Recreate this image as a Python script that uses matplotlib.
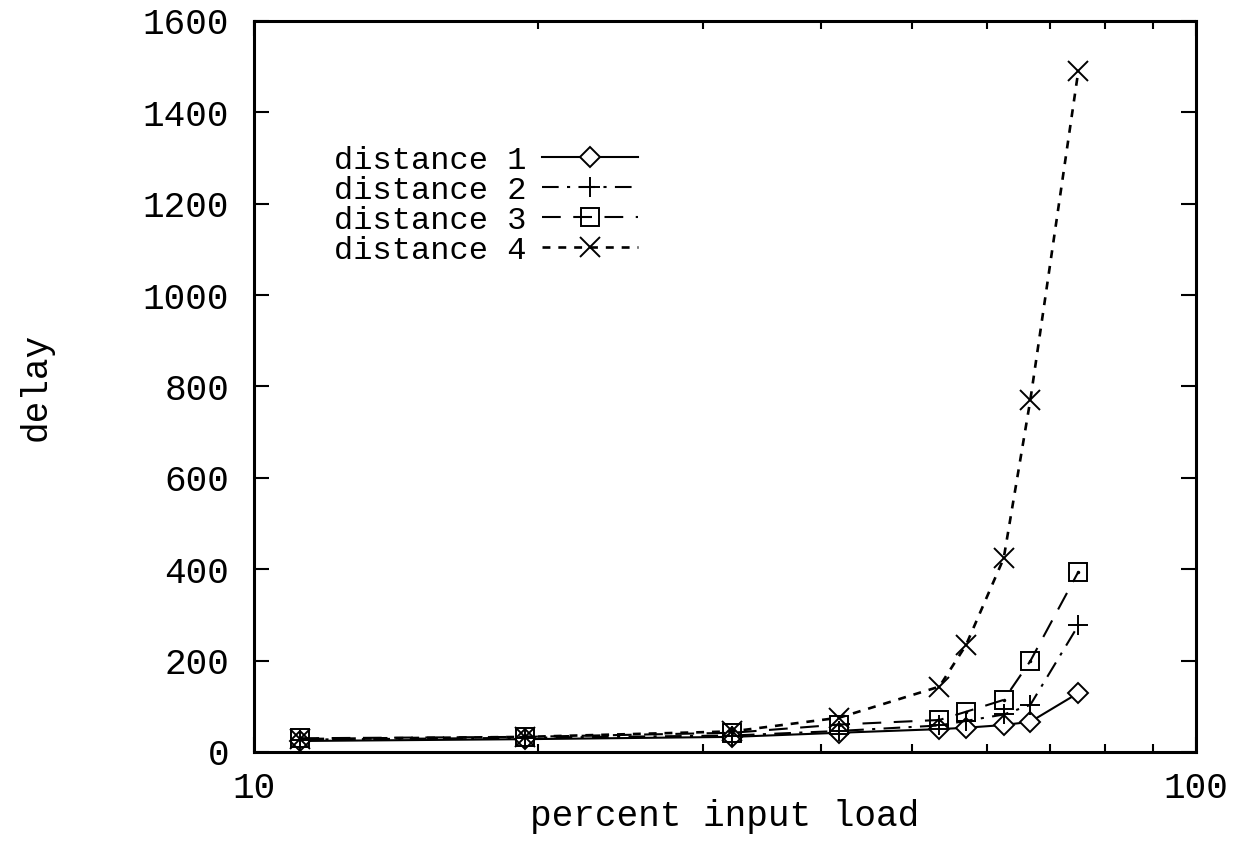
import matplotlib
matplotlib.use("Agg")
import matplotlib.pyplot as plt
from matplotlib.ticker import FixedLocator, NullFormatter

# values (log x axis)
load = [11.2, 19.4, 32.2, 41.8, 53.4, 57.0, 62.5, 66.7, 75.0]
dist1 = [24, 28, 33, 42, 50, 53, 59, 66, 129]
dist2 = [27, 31, 36, 46, 58, 68, 82, 103, 277]
dist3 = [30, 33, 42, 60, 70, 88, 114, 199, 394]
dist4 = [28, 33, 45, 75, 143, 234, 424, 770, 1490]
labels = ["distance 1", "distance 2", "distance 3", "distance 4"]

yticks = [0, 200, 400, 600, 800, 1000, 1200, 1400, 1600]
xticks = [10, 100]
xminor = [20, 30, 40, 50, 60, 70, 80, 90]

plt.rcParams.update({'font.family': 'Liberation Mono', 'font.size': 26})

fig = plt.figure(figsize=(12.35, 8.49), dpi=100)
ax = fig.add_axes([0.2057, 0.1143, 0.7627, 0.861])

lw = 1.5
ax.plot(load, dist1, color="black", linestyle="-", linewidth=lw, marker="D",
        markersize=10, markerfacecolor="white", markeredgewidth=1.4, label=labels[0])
ax.plot(load, dist2, color="black", linestyle=(0, (8, 4, 1.5, 4)), linewidth=lw, marker="+",
        markersize=14, markeredgewidth=1.4, label=labels[1])
ax.plot(load, dist3, color="black", linestyle=(0, (9, 6)), linewidth=lw, marker="s",
        markersize=13, markerfacecolor="none", markeredgewidth=1.4, label=labels[2])
ax.plot(load, dist3, color="black", linestyle="none", marker=".", markersize=3)
ax.plot(load, dist4, color="black", linestyle=(0, (3, 3)), linewidth=lw + 0.4, marker="x",
        markersize=14, markeredgewidth=1.4, label=labels[3])

ax.set_xscale("log")
ax.set_xlim(10, 100)
ax.set_ylim(0, 1600)
ax.xaxis.set_major_locator(FixedLocator(xticks))
ax.set_xticklabels([str(v) for v in xticks])
ax.xaxis.set_minor_locator(FixedLocator(xminor))
ax.xaxis.set_minor_formatter(NullFormatter())
ax.set_yticks(yticks)

ax.tick_params(which="major", direction="in", length=11, width=1.5,
               top=True, right=True)
ax.tick_params(which="minor", direction="in", length=6, width=1.5,
               top=True, right=True)
ax.tick_params(axis="y", pad=18)
ax.tick_params(axis="x", pad=14)
for s in ax.spines.values():
    s.set_linewidth(2.2)

ax.set_xlabel("percent input load", labelpad=-5)
ax.set_ylabel("delay", labelpad=64)

ax.legend(loc="upper left", bbox_to_anchor=(0.071, 0.847), frameon=False,
          markerfirst=False, handlelength=3.0, handletextpad=0.5,
          labelspacing=0.0, borderaxespad=0, fontsize=23)

plt.savefig("out.png", dpi=100)
plt.close()
